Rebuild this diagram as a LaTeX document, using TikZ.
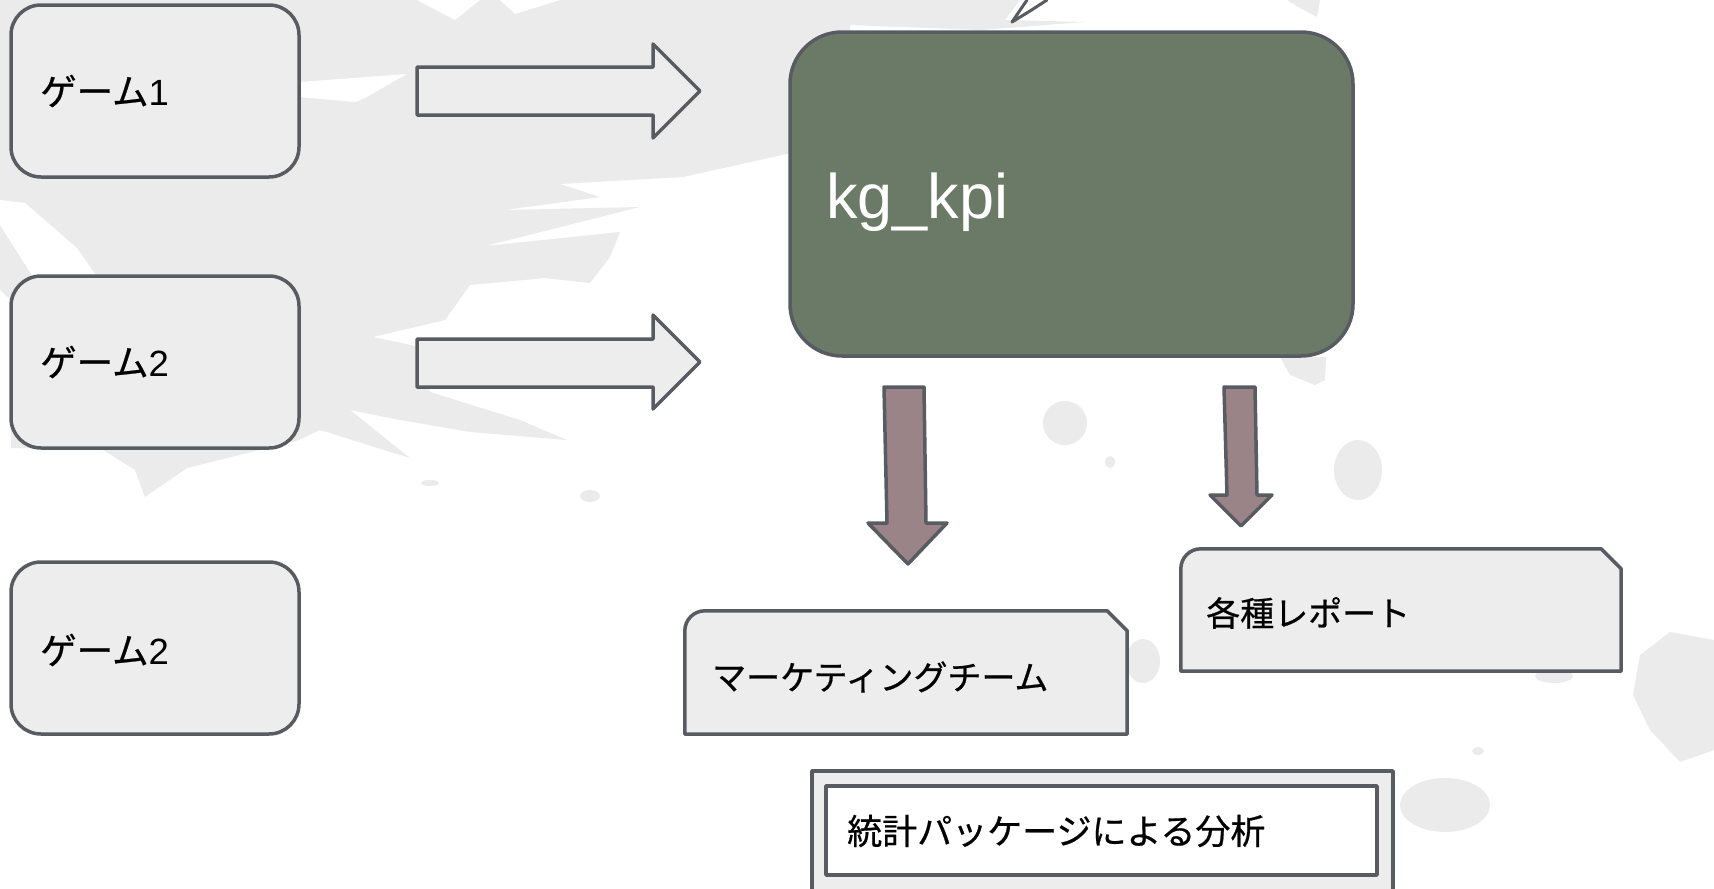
\documentclass[tikz,border=0pt]{standalone}
\usepackage{fontspec}
\setmainfont{Liberation Sans}
\newfontfamily\jp[FakeBold=0.6]{Noto Sans CJK JP}
\usetikzlibrary{calc}
\definecolor{bggrey}{HTML}{EBEBEB}
\definecolor{boxgrey}{HTML}{EDEDED}
\definecolor{edgecol}{HTML}{595B63}
\definecolor{kgreen}{HTML}{6B7A67}
\definecolor{mauve}{HTML}{9A8487}
\newcommand\snipbox[1]{%
  \draw[outlinestyle, fill=boxgrey] (#1.south west)
    -- ($(#1.north west)+(0,20)$)
    .. controls ($(#1.north west)+(0,9)$) and ($(#1.north west)+(9,0)$) .. ($(#1.north west)+(20,0)$)
    -- ($(#1.north east)+(-20,0)$) -- ($(#1.north east)+(0,20)$)
    -- (#1.south east) -- cycle;}
\begin{document}
\begin{tikzpicture}[x=1pt,y=-1pt,
  bgshape/.style={fill=bggrey, draw=none},
  wstreak/.style={fill=white, draw=none},
  outlinestyle/.style={draw=edgecol, line width=3.5pt, line join=round},
  gamebox/.style={outlinestyle, fill=boxgrey, rounded corners=30pt,
    minimum width=288pt, minimum height=172pt, inner sep=0pt},
  shapeholder/.style={inner sep=0pt, draw=none},
  jtext/.style={font=\jp\fontsize{34}{40}\selectfont, text=black, inner sep=0pt, anchor=west},
  gtext/.style={jtext, font=\jp\fontsize{36.5}{42}\selectfont},
  hollowarrow/.style={outlinestyle, fill=boxgrey},
  downarrow/.style={outlinestyle, fill=mauve}
]
\useasboundingbox (0,0) rectangle (1714,889);
\clip (0,0) rectangle (1714,889);
\fill[white] (0,0) rectangle (1714,889);

% ---- background brush texture ----
\fill[bgshape] (0,0) -- (1020,0) -- (1005,20) -- (1085,22) -- (980,30) -- (850,25)
  -- (850,140) -- (683,177) -- (560,184) -- (600,197) -- (505,210) -- (640,207)
  -- (485,246) -- (620,232) -- (610,257) -- (590,283) -- (545,278) -- (470,285)
  -- (445,320) -- (373,337) -- (420,347) -- (430,392) -- (520,420) -- (567,440)
  -- (470,432) -- (400,420) -- (350,410) -- (410,458) -- (320,430) -- (299,440)
  -- (187,468) -- (145,497) -- (135,470) -- (103,450) -- (11,448) -- (11,300)
  -- (0,290) -- cycle;
\fill[wstreak] (0,200) -- (25,203) -- (77,248) -- (97,277) -- (35,280) -- (0,225) -- cycle;
\fill[wstreak] (299,82) -- (407,74) -- (365,98) -- (355,102) -- (299,97) -- cycle;
\fill[wstreak] (417,0) -- (480,0) -- (455,20) -- cycle;
\fill[wstreak] (500,0) -- (560,0) -- (515,14) -- cycle;
\fill[bgshape] (1287,0) -- (1320,0) -- (1317,17) -- (1300,8) -- cycle;
\fill[bgshape] (1280,357) -- (1326,357) -- (1325,380) -- (1315,385) -- (1290,375) -- cycle;
\fill[bgshape] (1065,423) ellipse [x radius=22, y radius=22];
\fill[bgshape] (1110,462) ellipse [x radius=5, y radius=6];
\fill[bgshape] (1358,470) ellipse [x radius=24, y radius=30];
\fill[bgshape] (1640,655) -- (1670,632) -- (1714,640) -- (1714,750) -- (1680,762) -- (1650,730) -- (1633,695) -- cycle;
\fill[bgshape] (1554,676) ellipse [x radius=19, y radius=7];
\fill[bgshape] (1445,805) ellipse [x radius=45, y radius=27];
\fill[bgshape] (1143,661) ellipse [x radius=17, y radius=22];
\fill[bgshape] (1478,751) ellipse [x radius=6, y radius=4];
\fill[bgshape] (590,496) ellipse [x radius=10, y radius=6];
\fill[bgshape] (430,483) ellipse [x radius=9, y radius=3];

% dark tip at the top
\draw[edgecol, line width=3pt, line cap=round, line join=round]
  (1027,0) -- (1012,22) -- (1030,11) -- (1047,0);

% ---- source boxes ----
\node[gamebox] (g1) at (155,91) {};
\node[gamebox] (g2) at (155,362) {};
\node[gamebox] (g3) at (155,648) {};
\node[gtext] (t1) at (40,91) {ゲーム\textrm{1}};
\node[gtext] (t2) at (40,362) {ゲーム\textrm{2}};
\node[gtext] (t3) at (40,650) {ゲーム\textrm{2}};

% ---- hollow arrows ----
\draw[hollowarrow] (417,67) -- (653,67) -- (653,44) -- (700,91) -- (653,138) -- (653,115) -- (417,115) -- cycle;
\draw[hollowarrow] (417,339) -- (653,339) -- (653,315) -- (700,362) -- (653,409) -- (653,387) -- (417,387) -- cycle;

% ---- kg_kpi ----
\node[outlinestyle, fill=kgreen, rounded corners=52pt, minimum width=563pt,
  minimum height=324pt, inner sep=0pt] (kpi) at (1071.5,194) {};
\node[anchor=base west, text=white, font=\fontsize{63}{70}\selectfont, inner sep=0pt]
  (kpit) at (826,218) {kg\_kpi};

% ---- down arrows ----
\draw[downarrow] (884,387) -- (924,387) -- (926,523) -- (947,523) -- (908,564)
  -- (868,523) -- (887,523) -- cycle;
\draw[downarrow] (1224,387) -- (1255,387) -- (1257,495) -- (1272,495) -- (1241,526)
  -- (1210,495) -- (1227,495) -- cycle;

% ---- output boxes ----
\node[shapeholder, minimum width=442pt, minimum height=123pt] (mkt) at (906,672.5) {};
\snipbox{mkt}
\node[jtext] (mktt) at (712,677) {マーケティングチーム};

\node[shapeholder, minimum width=440pt, minimum height=122pt] (rep) at (1401,610) {};
\snipbox{rep}
\node[jtext] (rept) at (1206,613) {各種レポート};

\node[outlinestyle, fill=boxgrey, minimum width=581pt, minimum height=140pt, inner sep=0pt]
  (statout) at (1102.5,841) {};
\node[outlinestyle, fill=white, minimum width=551pt, minimum height=89pt, inner sep=0pt]
  (statin) at (1101.5,830.5) {};
\node[jtext, font=\jp\fontsize{35}{41}\selectfont] (statt) at (847,831) {統計パッケージによる分析};
\end{tikzpicture}
\end{document}
